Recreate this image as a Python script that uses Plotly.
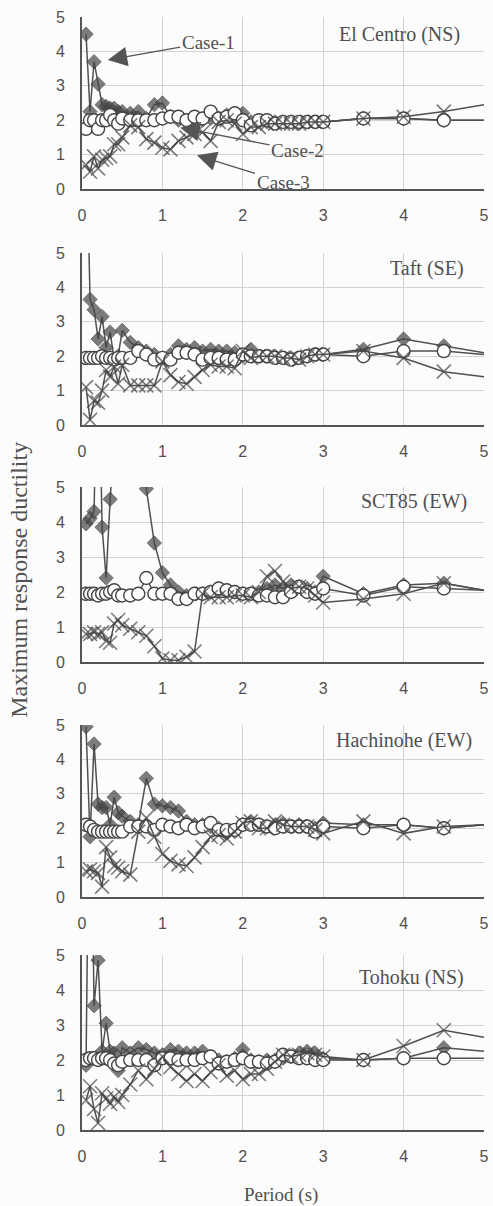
import plotly.graph_objects as go

# Periods (s)
period = [0.05, 0.1, 0.15, 0.2, 0.25, 0.3, 0.35, 0.4, 0.45, 0.5,
          0.6, 0.7, 0.8, 0.9, 1.0, 1.1, 1.2, 1.3, 1.4, 1.5,
          1.6, 1.7, 1.8, 1.9, 2.0, 2.1, 2.2, 2.3, 2.4, 2.5,
          2.6, 2.7, 2.8, 2.9, 3.0, 3.5, 4.0, 4.5, 5.0]

panels = ["El Centro (NS)", "Taft (SE)", "SCT85 (EW)", "Hachinohe (EW)", "Tohoku (NS)"]
case_names = ["Case-1", "Case-2", "Case-3"]

# El Centro (NS)
elcentro_case1 = [4.5, 2.25, 3.7, 3.05, 2.45, 2.4, 2.35, 2.35, 2.25, 2.25,
                  2.2, 2.25, 2.05, 2.45, 2.5, 2.1, 2.0, 1.95, 2.0, 2.0,
                  2.05, 2.05, 2.15, 2.1, 2.2, 1.95, 1.95, 1.95, 1.95, 1.95,
                  1.95, 1.9, 1.95, 1.95, 1.95, 2.05, 2.05, 2.0, 2.0]
elcentro_case2 = [1.75, 2.0, 2.0, 1.75, 2.0, 2.0, 2.15, 2.0, 1.9, 2.05,
                  2.0, 2.0, 2.0, 2.0, 2.05, 2.1, 2.1, 2.0, 2.1, 2.05,
                  2.25, 2.05, 2.1, 2.2, 2.0, 1.85, 2.0, 2.0, 1.9, 1.95,
                  1.95, 1.95, 1.95, 1.95, 1.95, 2.05, 2.05, 2.0, 2.0]
elcentro_case3 = [0.7, 0.5, 0.95, 0.6, 0.85, 0.9, 0.95, 1.3, 1.3, 1.5,
                  1.85, 1.8, 1.45, 1.35, 1.2, 1.15, 1.4, 1.5, 1.6, 1.65,
                  1.4, 1.95, 2.0, 1.9, 1.6, 1.8, 1.8, 1.9, 1.9, 1.9,
                  1.9, 1.9, 1.95, 1.95, 1.95, 2.05, 2.1, 2.25, 2.45]

# Taft (SE)
taft_case1 = [9.0, 3.65, 3.35, 2.5, 3.15, 2.25, 2.7, 1.9, 2.0, 2.75,
              2.4, 2.25, 2.15, 2.05, 1.95, 2.05, 2.3, 2.2, 2.25, 2.15,
              2.2, 2.15, 2.15, 2.1, 2.0, 2.2, 2.0, 2.0, 2.0, 1.95,
              1.95, 1.95, 2.0, 2.05, 2.05, 2.2, 2.5, 2.3, 2.1]
taft_case2 = [1.95, 1.95, 1.95, 1.95, 2.0, 1.95, 1.95, 1.9, 1.95, 1.95,
              1.95, 2.15, 2.05, 1.9, 1.95, 1.9, 2.1, 2.1, 2.05, 1.9,
              1.95, 1.95, 1.9, 1.9, 2.05, 2.0, 2.0, 2.0, 1.95, 1.95,
              1.9, 1.95, 2.0, 2.05, 2.05, 2.0, 2.15, 2.15, 2.05]
taft_case3 = [1.1, 0.15, 0.7, 0.65, 1.0, 1.6, 1.4, 1.7, 1.2, 1.75,
              1.15, 1.15, 1.15, 1.15, 1.85, 1.45, 1.25, 1.2, 1.4, 1.6,
              1.75, 1.7, 1.7, 1.65, 2.15, 1.95, 2.0, 2.0, 2.0, 1.95,
              1.95, 1.9, 2.0, 2.05, 2.05, 2.15, 1.95, 1.55, 1.4]

# SCT85 (EW)
sct_case1 = [3.95, 4.1, 4.3, 10.0, 3.85, 2.4, 4.65, 10.0, 10.0, 10.0,
             10.0, 10.0, 4.95, 3.4, 2.55, 2.2, 2.0, 1.9, 1.95, 1.95,
             2.0, 2.1, 2.05, 2.0, 1.95, 1.95, 2.0, 2.1, 2.2, 2.1,
             2.2, 2.15, 2.1, 2.0, 2.45, 1.95, 2.2, 2.25, 2.05]
sct_case2 = [1.95, 1.95, 1.95, 1.9, 1.95, 1.95, 2.0, 2.05, 1.9, 1.9,
             1.9, 1.95, 2.4, 1.95, 1.95, 1.95, 1.8, 1.8, 1.95, 1.95,
             2.0, 2.1, 2.05, 2.0, 1.95, 1.95, 1.9, 1.9, 1.85, 1.85,
             2.0, 2.15, 2.0, 1.95, 2.1, 1.9, 2.15, 2.1, 2.05]
sct_case3 = [0.8, 0.8, 0.85, 0.8, 0.85, 0.6, 0.55, 1.1, 1.2, 1.05,
             0.95, 0.85, 0.75, 0.45, 0.1, 0.05, 0.05, 0.15, 0.3, 1.95,
             1.85, 1.85, 1.85, 1.9, 1.9, 1.85, 2.0, 2.45, 2.6, 2.3,
             2.1, 2.15, 2.1, 1.9, 1.7, 1.8, 1.95, 2.25, 2.05]

# Hachinohe (EW)
hachi_case1 = [4.95, 1.75, 4.45, 2.7, 2.6, 2.6, 2.1, 2.9, 2.45, 2.35,
               2.2, 2.1, 3.45, 2.7, 2.65, 2.6, 2.5, 2.2, 2.1, 2.1,
               2.05, 2.0, 1.85, 1.9, 2.1, 2.2, 2.1, 2.05, 2.1, 2.15,
               2.05, 2.1, 2.05, 2.0, 2.15, 2.1, 2.1, 2.0, 2.1]
hachi_case2 = [2.1, 2.05, 1.95, 1.9, 1.9, 1.9, 1.9, 1.9, 1.9, 1.9,
               2.05, 2.05, 2.05, 1.95, 2.1, 2.05, 2.0, 2.1, 2.0, 2.05,
               2.15, 1.95, 1.95, 1.95, 2.1, 2.1, 2.1, 2.05, 2.0, 2.05,
               2.05, 2.05, 2.05, 1.9, 2.05, 2.0, 2.1, 2.0, 2.1]
hachi_case3 = [0.75, 0.8, 0.75, 0.7, 0.3, 1.45, 1.15, 0.9, 0.85, 0.75,
               0.65, 1.9, 2.3, 1.75, 1.25, 1.05, 0.95, 0.9, 1.15, 1.45,
               1.75, 1.8, 1.7, 1.9, 2.15, 2.2, 2.0, 2.0, 2.2, 2.1,
               2.05, 2.05, 2.05, 1.95, 1.85, 2.2, 1.85, 2.05, 2.1]

# Tohoku (NS)
tohoku_case1 = [1.85, 12.0, 3.55, 4.85, 2.25, 3.05, 2.25, 2.2, 1.7, 2.35,
                2.2, 2.35, 2.3, 2.2, 2.15, 2.3, 2.25, 2.2, 2.2, 2.25,
                2.1, 2.0, 1.95, 2.05, 2.3, 2.0, 1.95, 2.0, 2.0, 2.05,
                2.1, 2.2, 2.25, 2.2, 2.05, 2.0, 2.05, 2.35, 2.25]
tohoku_case2 = [2.0, 2.05, 2.05, 2.0, 2.05, 2.05, 2.0, 1.9, 1.85, 1.95,
                2.0, 2.0, 2.0, 1.85, 2.05, 2.05, 2.0, 2.0, 2.0, 2.05,
                2.1, 1.9, 1.95, 2.0, 2.05, 1.95, 1.95, 1.9, 1.95, 2.15,
                2.1, 2.05, 2.05, 2.0, 2.0, 2.0, 2.05, 2.05, 2.05]
tohoku_case3 = [0.85, 1.25, 0.6, 0.2, 1.05, 0.9, 0.75, 0.95, 0.8, 1.0,
                1.3, 1.7, 1.45, 1.75, 2.1, 1.8, 1.6, 1.4, 1.6, 1.4,
                1.65, 1.85, 1.55, 1.7, 1.45, 1.6, 1.6, 1.75, 1.95, 2.15,
                2.1, 2.15, 2.2, 2.15, 2.1, 2.0, 2.4, 2.85, 2.65]

series = [
    (elcentro_case1, elcentro_case2, elcentro_case3),
    (taft_case1, taft_case2, taft_case3),
    (sct_case1, sct_case2, sct_case3),
    (hachi_case1, hachi_case2, hachi_case3),
    (tohoku_case1, tohoku_case2, tohoku_case3),
]

x_ticks = [0, 1, 2, 3, 4, 5]
y_ticks = [0, 1, 2, 3, 4, 5]

# ---- layout geometry (pixels) ----
W, H = 493, 1206
M_L, M_R, M_T, M_B = 82, 4, 17, 76
panel_px = [(17, 189), (253, 425), (487, 662), (725, 897), (955, 1130)]
plot_h = H - M_T - M_B
bottom_px = H - M_B


def to_paper(py):
    return (bottom_px - py) / plot_h


INK = "#505050"
LINE = "#505050"
GRID = "#d2d2d2"
BG = "#fcfcfc"
SANS = "Liberation Sans, Arial, sans-serif"
SERIF = "Liberation Serif, Times New Roman, serif"

n = len(period)
hide_last = [1] * (n - 1) + [0]

fig = go.Figure()
for i, (c1, c2, c3) in enumerate(series):
    xa = "x" if i == 0 else f"x{i+1}"
    ya = "y" if i == 0 else f"y{i+1}"
    fig.add_trace(go.Scatter(
        x=period, y=c1, mode="lines+markers", name=case_names[0], xaxis=xa, yaxis=ya,
        line=dict(color=LINE, width=1.5),
        marker=dict(symbol="diamond", size=[11 * h for h in hide_last], color="#474747",
                    line=dict(color="#3a3a3a", width=1)),
        showlegend=False))
    fig.add_trace(go.Scatter(
        x=period, y=c2, mode="lines+markers", name=case_names[1], xaxis=xa, yaxis=ya,
        line=dict(color=LINE, width=1.5),
        marker=dict(symbol="circle", size=[13 * h for h in hide_last], color="#ffffff",
                    opacity=1, line=dict(color="#454545", width=1.4)),
        showlegend=False))
    fig.add_trace(go.Scatter(
        x=period, y=c3, mode="lines+markers", name=case_names[2], xaxis=xa, yaxis=ya,
        line=dict(color=LINE, width=1.5),
        marker=dict(symbol="x-thin-open", size=[14 * h for h in hide_last], color="#454545",
                    line=dict(color="#454545", width=1.6)),
        showlegend=False))

layout = dict(
    width=W, height=H,
    margin=dict(l=M_L, r=M_R, t=M_T, b=M_B),
    paper_bgcolor=BG, plot_bgcolor=BG,
    font=dict(family=SANS, size=16, color=INK),
)
for i, (top, bot) in enumerate(panel_px):
    k = "" if i == 0 else str(i + 1)
    layout[f"xaxis{k}"] = dict(
        domain=[0, 1], anchor=f"y{k}", range=[0, 5], tickvals=x_ticks,
        showgrid=True, gridcolor=GRID, gridwidth=1, zeroline=False,
        showline=True, linecolor="#555555", linewidth=2, ticks="",
        ticklabeloverflow="allow",
        ticklabelstandoff=11, tickfont=dict(family=SANS, size=16, color=INK))
    layout[f"yaxis{k}"] = dict(
        domain=[to_paper(bot), to_paper(top)], anchor=f"x{k}", range=[0, 5], tickvals=y_ticks,
        showgrid=True, gridcolor=GRID, gridwidth=1, zeroline=False,
        showline=True, linecolor="#555555", linewidth=2, ticks="",
        ticklabeloverflow="allow",
        ticklabelstandoff=12, tickfont=dict(family=SANS, size=16, color=INK))
fig.update_layout(**layout)

title_pos = [0.90, 0.91, 0.92, 0.91, 0.87]
title_x = [0.945, 0.955, 0.962, 0.975, 0.955]
for i, name in enumerate(panels):
    k = "" if i == 0 else str(i + 1)
    fig.add_annotation(text=name, xref=f"x{k} domain", yref=f"y{k} domain",
                       x=title_x[i], y=title_pos[i], xanchor="right", yanchor="middle",
                       showarrow=False, font=dict(family=SERIF, size=20, color=INK))

# Case labels with arrows (El Centro panel)
arrow_specs = [
    ("Case-1", 0.32, 3.75, 1.57, 4.27),
    ("Case-2", 1.22, 1.78, 2.68, 1.13),
    ("Case-3", 1.43, 0.98, 2.5, 0.2),
]
for txt, hx, hy, tx, ty in arrow_specs:
    fig.add_annotation(text=txt, x=hx, y=hy, ax=tx, ay=ty, xref="x", yref="y",
                       axref="x", ayref="y", showarrow=True, arrowhead=2, arrowsize=3,
                       arrowwidth=1.3, arrowcolor="#555555",
                       font=dict(family=SERIF, size=19, color=INK))

# Axis titles
fig.add_annotation(text="Maximum response ductility", xref="paper", yref="paper",
                   x=(18 - M_L) / (W - M_L - M_R), y=to_paper(580), textangle=-90,
                   showarrow=False, xanchor="center", yanchor="middle",
                   font=dict(family=SERIF, size=24, color=INK))
fig.add_annotation(text="Period (s)", xref="paper", yref="paper",
                   x=(283 - M_L) / (W - M_L - M_R), y=to_paper(1195),
                   showarrow=False, xanchor="center", yanchor="middle",
                   font=dict(family=SERIF, size=19, color=INK))

fig.write_html("out.html", config={"displayModeBar": False},
               post_script="document.body.style.margin='0';document.body.style.overflow='hidden';")
